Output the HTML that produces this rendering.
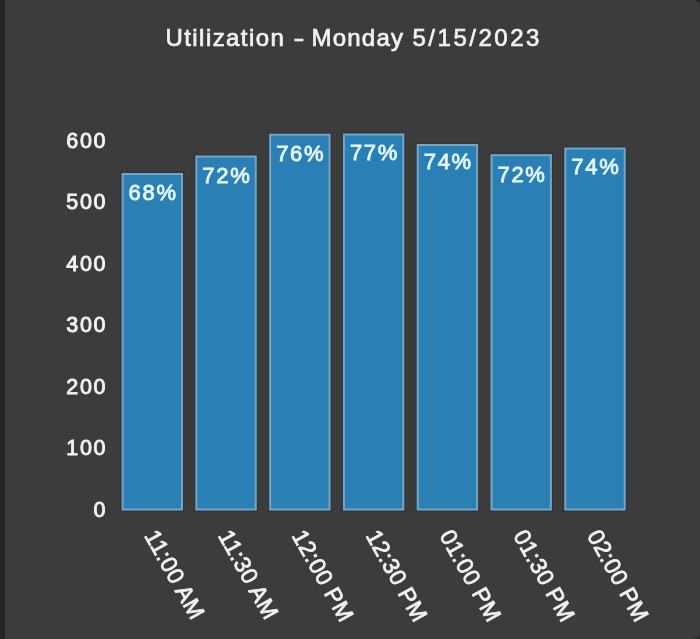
<!DOCTYPE html><html><head><meta charset="utf-8"><style>html,body{margin:0;padding:0;background:#3c3c3c;width:700px;height:639px;overflow:hidden}svg{display:block;filter:blur(0.35px)}text{font-family:"Liberation Sans",sans-serif}</style></head><body>
<svg width="700" height="639" viewBox="0 0 700 639">
<rect x="0" y="0" width="700" height="639" fill="#3c3c3c"/>
<rect x="0" y="0" width="3" height="639" fill="#262626"/>
<rect x="3" y="0" width="1.7" height="639" fill="#202020"/>
<path d="M691,0 L700,0 L700,5 Q699,0.5 691,0 Z" fill="#262626"/>
<path d="M700,632 L700,639 L692,639 Q699,638.5 700,632 Z" fill="#2a2a2a"/>
<text transform="translate(165.50,45.60) scale(1.0,1)" x="0" y="0" fill="#f2f2f2" stroke="#f2f2f2" stroke-width="0.7" letter-spacing="1.43" font-size="24" text-anchor="start">Utilization</text>
<text transform="translate(293.50,45.60) scale(1.35,1)" x="0" y="0" fill="#f2f2f2" stroke="#f2f2f2" stroke-width="0.7" font-size="24" text-anchor="start">-</text>
<text transform="translate(311.50,45.60) scale(1.0,1)" x="0" y="0" fill="#f2f2f2" stroke="#f2f2f2" stroke-width="0.7" letter-spacing="1.21" font-size="24" text-anchor="start">Monday</text>
<text transform="translate(412.50,45.60) scale(1.0,1)" x="0" y="0" fill="#f2f2f2" stroke="#f2f2f2" stroke-width="0.7" letter-spacing="2.52" font-size="24" text-anchor="start">5/15/2023</text>
<text transform="translate(107.00,517.00) scale(1.0,1)" x="0" y="0" fill="#f2f2f2" stroke="#f2f2f2" stroke-width="0.9" letter-spacing="1.6" font-size="21.5" text-anchor="end">0</text>
<text transform="translate(107.00,455.42) scale(1.0,1)" x="0" y="0" fill="#f2f2f2" stroke="#f2f2f2" stroke-width="0.9" letter-spacing="1.6" font-size="21.5" text-anchor="end">100</text>
<text transform="translate(107.00,393.84) scale(1.0,1)" x="0" y="0" fill="#f2f2f2" stroke="#f2f2f2" stroke-width="0.9" letter-spacing="1.6" font-size="21.5" text-anchor="end">200</text>
<text transform="translate(107.00,332.26) scale(1.0,1)" x="0" y="0" fill="#f2f2f2" stroke="#f2f2f2" stroke-width="0.9" letter-spacing="1.6" font-size="21.5" text-anchor="end">300</text>
<text transform="translate(107.00,270.68) scale(1.0,1)" x="0" y="0" fill="#f2f2f2" stroke="#f2f2f2" stroke-width="0.9" letter-spacing="1.6" font-size="21.5" text-anchor="end">400</text>
<text transform="translate(107.00,209.10) scale(1.0,1)" x="0" y="0" fill="#f2f2f2" stroke="#f2f2f2" stroke-width="0.9" letter-spacing="1.6" font-size="21.5" text-anchor="end">500</text>
<text transform="translate(107.00,147.52) scale(1.0,1)" x="0" y="0" fill="#f2f2f2" stroke="#f2f2f2" stroke-width="0.9" letter-spacing="1.6" font-size="21.5" text-anchor="end">600</text>
<rect x="120.90" y="172.30" width="62.80" height="338.90" fill="none" stroke="rgba(40,52,60,0.6)" stroke-width="1.4"/>
<rect x="122.60" y="174.00" width="59.40" height="335.50" fill="#2a80b5" stroke="#76a5c5" stroke-width="2"/>
<rect x="194.68" y="154.80" width="62.80" height="356.40" fill="none" stroke="rgba(40,52,60,0.6)" stroke-width="1.4"/>
<rect x="196.38" y="156.50" width="59.40" height="353.00" fill="#2a80b5" stroke="#76a5c5" stroke-width="2"/>
<rect x="268.46" y="133.00" width="62.80" height="378.20" fill="none" stroke="rgba(40,52,60,0.6)" stroke-width="1.4"/>
<rect x="270.16" y="134.70" width="59.40" height="374.80" fill="#2a80b5" stroke="#76a5c5" stroke-width="2"/>
<rect x="342.24" y="132.80" width="62.80" height="378.40" fill="none" stroke="rgba(40,52,60,0.6)" stroke-width="1.4"/>
<rect x="343.94" y="134.50" width="59.40" height="375.00" fill="#2a80b5" stroke="#76a5c5" stroke-width="2"/>
<rect x="416.02" y="143.30" width="62.80" height="367.90" fill="none" stroke="rgba(40,52,60,0.6)" stroke-width="1.4"/>
<rect x="417.72" y="145.00" width="59.40" height="364.50" fill="#2a80b5" stroke="#76a5c5" stroke-width="2"/>
<rect x="489.80" y="153.50" width="62.80" height="357.70" fill="none" stroke="rgba(40,52,60,0.6)" stroke-width="1.4"/>
<rect x="491.50" y="155.20" width="59.40" height="354.30" fill="#2a80b5" stroke="#76a5c5" stroke-width="2"/>
<rect x="563.58" y="146.80" width="62.80" height="364.40" fill="none" stroke="rgba(40,52,60,0.6)" stroke-width="1.4"/>
<rect x="565.28" y="148.50" width="59.40" height="361.00" fill="#2a80b5" stroke="#76a5c5" stroke-width="2"/>
<text transform="translate(153.15,200.30) scale(1.0,1)" x="0" y="0" fill="#e4f6ff" stroke="#e4f6ff" stroke-width="0.85" letter-spacing="1.7" font-size="22" text-anchor="middle">68%</text>
<text transform="translate(226.93,182.50) scale(1.0,1)" x="0" y="0" fill="#e4f6ff" stroke="#e4f6ff" stroke-width="0.85" letter-spacing="1.7" font-size="22" text-anchor="middle">72%</text>
<text transform="translate(300.71,160.60) scale(1.0,1)" x="0" y="0" fill="#e4f6ff" stroke="#e4f6ff" stroke-width="0.85" letter-spacing="1.7" font-size="22" text-anchor="middle">76%</text>
<text transform="translate(374.49,159.50) scale(1.0,1)" x="0" y="0" fill="#e4f6ff" stroke="#e4f6ff" stroke-width="0.85" letter-spacing="1.7" font-size="22" text-anchor="middle">77%</text>
<text transform="translate(448.27,169.30) scale(1.0,1)" x="0" y="0" fill="#e4f6ff" stroke="#e4f6ff" stroke-width="0.85" letter-spacing="1.7" font-size="22" text-anchor="middle">74%</text>
<text transform="translate(522.05,181.50) scale(1.0,1)" x="0" y="0" fill="#e4f6ff" stroke="#e4f6ff" stroke-width="0.85" letter-spacing="1.7" font-size="22" text-anchor="middle">72%</text>
<text transform="translate(595.83,173.80) scale(1.0,1)" x="0" y="0" fill="#e4f6ff" stroke="#e4f6ff" stroke-width="0.85" letter-spacing="1.7" font-size="22" text-anchor="middle">74%</text>
<text transform="translate(143.80,535.40) rotate(60.8) scale(1.0,1)" x="0" y="0" fill="#f2f2f2" stroke="#f2f2f2" stroke-width="0.8" letter-spacing="0.35" font-size="23" text-anchor="start">11:00 AM</text>
<text transform="translate(217.58,535.40) rotate(60.8) scale(1.0,1)" x="0" y="0" fill="#f2f2f2" stroke="#f2f2f2" stroke-width="0.8" letter-spacing="0.35" font-size="23" text-anchor="start">11:30 AM</text>
<text transform="translate(291.36,535.40) rotate(60.8) scale(1.0,1)" x="0" y="0" fill="#f2f2f2" stroke="#f2f2f2" stroke-width="0.8" letter-spacing="0.35" font-size="23" text-anchor="start">12:00 PM</text>
<text transform="translate(365.14,535.40) rotate(60.8) scale(1.0,1)" x="0" y="0" fill="#f2f2f2" stroke="#f2f2f2" stroke-width="0.8" letter-spacing="0.35" font-size="23" text-anchor="start">12:30 PM</text>
<text transform="translate(438.92,535.40) rotate(60.8) scale(1.0,1)" x="0" y="0" fill="#f2f2f2" stroke="#f2f2f2" stroke-width="0.8" letter-spacing="0.35" font-size="23" text-anchor="start">01:00 PM</text>
<text transform="translate(512.70,535.40) rotate(60.8) scale(1.0,1)" x="0" y="0" fill="#f2f2f2" stroke="#f2f2f2" stroke-width="0.8" letter-spacing="0.35" font-size="23" text-anchor="start">01:30 PM</text>
<text transform="translate(586.48,535.40) rotate(60.8) scale(1.0,1)" x="0" y="0" fill="#f2f2f2" stroke="#f2f2f2" stroke-width="0.8" letter-spacing="0.35" font-size="23" text-anchor="start">02:00 PM</text>
</svg></body></html>
